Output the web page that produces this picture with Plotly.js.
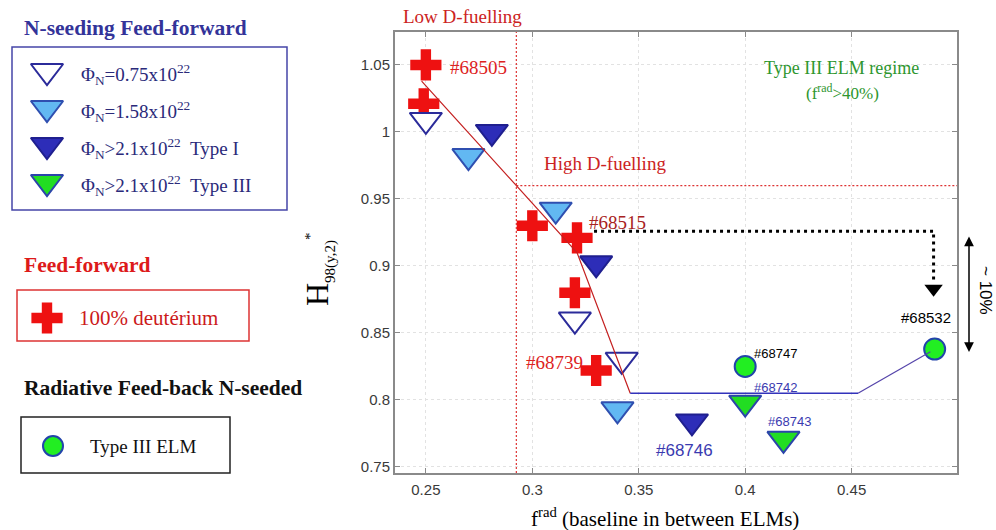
<!DOCTYPE html>
<html><head><meta charset="utf-8">
<script src="https://cdn.plot.ly/plotly-3.0.1.min.js"></script>
<style>html,body{margin:0;padding:0;background:#fff}#chart{width:996px;height:530px}</style>
</head><body><div id="chart"></div><script>
// ---------- data ----------
const xTickVals = [0.25, 0.30, 0.35, 0.40, 0.45];
const xTickText = ['0.25', '0.3', '0.35', '0.4', '0.45'];
const yTickVals = [0.75, 0.80, 0.85, 0.90, 0.95, 1.00, 1.05];
const yTickText = ['0.75', '0.8', '0.85', '0.9', '0.95', '1', '1.05'];

// 100% deuterium feed-forward (red crosses)
const deutX = [0.250, 0.249, 0.300, 0.321, 0.320, 0.330];
const deutY = [1.050, 1.021, 0.930, 0.921, 0.880, 0.822];
// Phi_N = 0.75e22 (open triangles)
const phi075X = [0.250, 0.320, 0.342];
const phi075Y = [1.009, 0.860, 0.830];
// Phi_N = 1.58e22 (light blue triangles)
const phi158X = [0.270, 0.311, 0.340];
const phi158Y = [0.982, 0.942, 0.793];
// Phi_N > 2.1e22 Type I (dark blue triangles)
const typeIX = [0.281, 0.330, 0.375];
const typeIY = [1.000, 0.902, 0.784];
// Phi_N > 2.1e22 Type III (green triangles)
const typeIIIX = [0.400, 0.418];
const typeIIIY = [0.798, 0.771];
// Radiative feed-back, Type III ELM (green circles)
const fbX = [0.400, 0.489];
const fbY = [0.825, 0.838];
// trend lines
const redTrendX = [0.248, 0.321, 0.346];
const redTrendY = [1.038, 0.910, 0.805];
const blueTrendX = [0.346, 0.453];
const blueTrendY = [0.805, 0.805];
const tailTrendX = [0.453, 0.487];
const tailTrendY = [0.805, 0.836];
// dotted arrow #68515 -> #68532
const arrowPathX = [0.329, 0.4885, 0.4885];
const arrowPathY = [0.926, 0.926, 0.889];
const arrowHeadX = [0.4885];
const arrowHeadY = [0.883];
// fuelling limits
const lowDFuelX = 0.2925;
const highDFuelY = 0.96;
const xRange = [0.2355, 0.4995];
const yRange = [0.7455, 1.0746];

// ---------- styles ----------
const SERIF = '"Liberation Serif", "DejaVu Serif", serif';
const SANS = '"Liberation Sans", Arial, sans-serif';
const NAVY = '#2b2b9a';
const RED = '#ee1111';
const TRI = 28;

function tri(x, y, fill, line, name, xa, ya) {
  return {x: x, y: y, type: 'scatter', mode: 'markers', name: name, xaxis: xa || 'x', yaxis: ya || 'y',
    marker: {symbol: 'triangle-down', size: TRI, color: fill, line: {color: line, width: 2}},
    hoverinfo: 'x+y', cliponaxis: false};
}

const traces = [
  {x: deutX, y: deutY, type: 'scatter', mode: 'markers', name: '100% deutérium',
   marker: {symbol: 'cross', size: 26, color: RED, line: {width: 0}}, cliponaxis: false},
  tri(phi075X, phi075Y, '#ffffff', NAVY, 'Φ=0.75'),
  tri(phi158X, phi158Y, '#62b8f2', '#2f4fb0', 'Φ=1.58'),
  tri(typeIX, typeIY, '#2d2db8', '#1f1f8f', 'Type I'),
  tri(typeIIIX, typeIIIY, '#22dd22', '#2c44aa', 'Type III'),
  {x: fbX, y: fbY, type: 'scatter', mode: 'markers', name: 'Type III ELM',
   marker: {symbol: 'circle', size: 21, color: '#22ee22', line: {color: '#2244aa', width: 2}}, cliponaxis: false},
  {x: redTrendX, y: redTrendY, type: 'scatter', mode: 'lines', line: {color: '#c42020', width: 1.2}},
  {x: blueTrendX, y: blueTrendY, type: 'scatter', mode: 'lines', line: {color: '#3333bb', width: 1.5}},
  {x: tailTrendX, y: tailTrendY, type: 'scatter', mode: 'lines', line: {color: '#5544aa', width: 1.2}},
  {x: arrowPathX, y: arrowPathY, type: 'scatter', mode: 'lines', line: {color: '#000', width: 3, dash: '3px,4px'}},
  {x: arrowHeadX, y: arrowHeadY, type: 'scatter', mode: 'markers', marker: {symbol: 'triangle-down', size: 16, color: '#000'}, cliponaxis: false},
];

// legend symbols (pixel overlay axes x2/y2)
const legX = 47;
traces.push(tri([legX], [71], '#ffffff', NAVY, 'l1', 'x2', 'y2'));
traces.push(tri([legX], [108], '#62b8f2', '#2f4fb0', 'l2', 'x2', 'y2'));
traces.push(tri([legX], [145], '#2d2db8', '#1f1f8f', 'l3', 'x2', 'y2'));
traces.push(tri([legX], [182], '#22dd22', '#2c44aa', 'l4', 'x2', 'y2'));
traces.push({x: [legX], y: [318], xaxis: 'x2', yaxis: 'y2', type: 'scatter', mode: 'markers',
  marker: {symbol: 'cross', size: 26, color: RED}, cliponaxis: false});
traces.push({x: [53], y: [446], xaxis: 'x2', yaxis: 'y2', type: 'scatter', mode: 'markers',
  marker: {symbol: 'circle', size: 20, color: '#22ee22', line: {color: '#2244aa', width: 2}}, cliponaxis: false});

function ann(text, x, y, size, color, family, xanchor, extra) {
  return Object.assign({text: text, x: x, y: y, xref: 'x2', yref: 'y2', showarrow: false,
    xanchor: xanchor || 'center', yanchor: 'middle',
    font: {size: size, color: color, family: family || SERIF}}, extra || {});
}

const annotations = [
  ann('Low D-fuelling', 462, 16, 19, '#cc2222'),
  ann('High D-fuelling', 605, 163, 19, '#cc2222'),
  ann('Type III ELM regime', 841, 68, 18, '#2e962e'),
  ann('(f<sup>rad</sup>&gt;40%)', 842, 92, 17, '#2e962e'),
  ann('#68505', 448, 67, 19, '#dd2222', SERIF, 'left'),
  ann('#68515', 587, 222, 19, '#a82222', SERIF, 'left'),
  ann('#68739', 585, 362, 19, '#dd2222', SERIF, 'right'),
  ann('#68746', 684, 450, 17, '#3a3ab0', SANS),
  ann('#68747', 752, 353, 13, '#000', SANS, 'left'),
  ann('#68742', 752, 387, 13, '#3a3ab0', SANS, 'left'),
  ann('#68743', 766, 421, 13, '#3a3ab0', SANS, 'left'),
  ann('#68532', 926, 317, 15, '#000', SANS),
  ann('~ 10%', 986, 290, 17, '#000', SANS, 'center', {textangle: 90}),
  // axis titles
  ann('f<sup>rad</sup> (baseline in between ELMs)', 665, 517, 21, '#000'),
  ann('H<sub><span style="font-size:15px">98(y,2)</span></sub><sup><span style="font-size:15px">*</span></sup>', 319, 270, 32, '#000', SERIF, 'center', {textangle: -90}),
  // left legend
  ann('<b>N-seeding Feed-forward</b>', 22, 28, 21.5, '#333399', SERIF, 'left'),
  ann('Φ<sub>N</sub>=0.75x10<sup>22</sup>', 79, 74, 19, '#2a2a7a', SERIF, 'left'),
  ann('Φ<sub>N</sub>=1.58x10<sup>22</sup>', 79, 111, 19, '#2a2a7a', SERIF, 'left'),
  ann('Φ<sub>N</sub>>2.1x10<sup>22</sup>  Type I', 79, 148, 19, '#2a2a7a', SERIF, 'left'),
  ann('Φ<sub>N</sub>>2.1x10<sup>22</sup>  Type III', 79, 185, 19, '#2a2a7a', SERIF, 'left'),
  ann('<b>Feed-forward</b>', 22, 265, 21.5, '#dd1a1a', SERIF, 'left'),
  ann('100% deutérium', 77, 318, 21, '#cc1a1a', SERIF, 'left'),
  ann('<b>Radiative Feed-back N-seeded</b>', 22, 388, 21.5, '#111', SERIF, 'left'),
  ann('Type III ELM', 88, 446, 19, '#111', SERIF, 'left'),
  // double arrow ~10%
  {text: '', x: 969, y: 352, ax: 969, ay: 235, xref: 'x2', yref: 'y2', axref: 'x2', ayref: 'y2',
   showarrow: true, arrowhead: 2, arrowside: 'end+start', arrowsize: 1.3, arrowwidth: 1.5, arrowcolor: '#000'},
];

const shapes = [
  {type: 'line', xref: 'x', yref: 'y', x0: lowDFuelX, x1: lowDFuelX, y0: yRange[0], y1: yRange[1],
   line: {color: '#dd3333', width: 1.2, dash: '2px,2px'}},
  {type: 'line', xref: 'x', yref: 'y', x0: lowDFuelX, x1: xRange[1], y0: highDFuelY, y1: highDFuelY,
   line: {color: '#dd3333', width: 1.2, dash: '2px,2px'}},
  {type: 'rect', xref: 'x2', yref: 'y2', x0: 12, x1: 287, y0: 47, y1: 210, line: {color: '#4545a8', width: 1.5}},
  {type: 'rect', xref: 'x2', yref: 'y2', x0: 17, x1: 249, y0: 290, y1: 341, line: {color: '#dd3333', width: 1.5}},
  {type: 'rect', xref: 'x2', yref: 'y2', x0: 21, x1: 230, y0: 417, y1: 473, line: {color: '#222', width: 1.5}},
];

const axisCommon = {showline: true, linecolor: '#8a8a8a', linewidth: 2, mirror: 'ticks',
  ticks: 'inside', ticklen: 5, tickcolor: '#8a8a8a', tickwidth: 1,
  showgrid: true, gridcolor: '#e2e2e2', griddash: 'dot', gridwidth: 1, zeroline: false,
  tickfont: {family: SANS, size: 15, color: '#3a3a3a'}, fixedrange: true};

const layout = {
  width: 996, height: 530, autosize: false,
  margin: {l: 0, r: 0, t: 0, b: 0},
  paper_bgcolor: '#ffffff', plot_bgcolor: 'rgba(0,0,0,0)',
  showlegend: false,
  xaxis: Object.assign({}, axisCommon, {domain: [395 / 996, 957 / 996], range: xRange,
    tickmode: 'array', tickvals: xTickVals, ticktext: xTickText, anchor: 'y', ticklabelstandoff: 2}),
  yaxis: Object.assign({}, axisCommon, {domain: [57 / 530, 498 / 530], range: yRange,
    tickmode: 'array', tickvals: yTickVals, ticktext: yTickText, anchor: 'x'}),
  xaxis2: {domain: [0, 1], range: [0, 996], visible: false, anchor: 'y2', fixedrange: true},
  yaxis2: {domain: [0, 1], range: [530, 0], visible: false, anchor: 'x2', fixedrange: true},
  annotations: annotations,
  shapes: shapes,
};

Plotly.newPlot('chart', traces, layout, {displayModeBar: false, staticPlot: true});
</script></body></html>
